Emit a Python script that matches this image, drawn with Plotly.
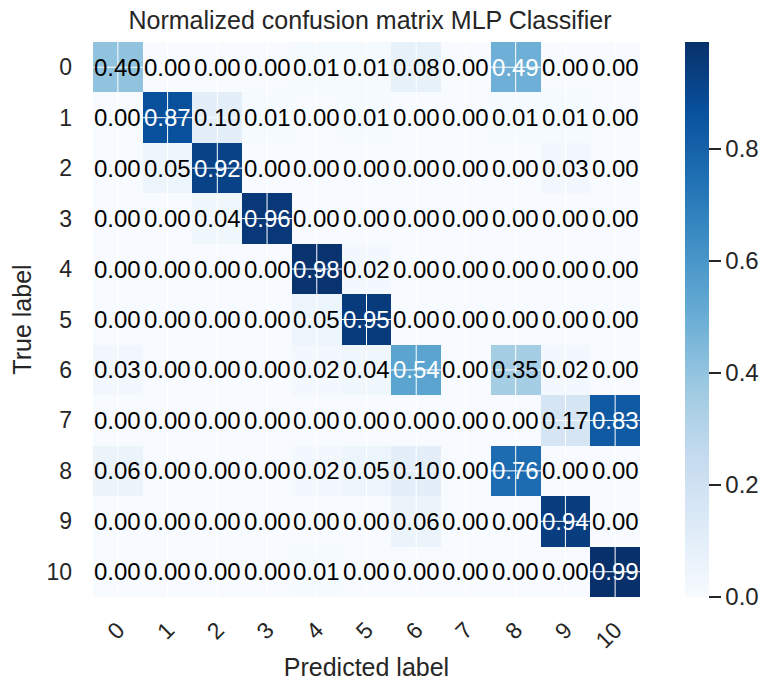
import plotly.graph_objects as go

# ---- data ----
classes = ["0", "1", "2", "3", "4", "5", "6", "7", "8", "9", "10"]
row_0 = [0.40, 0.00, 0.00, 0.00, 0.01, 0.01, 0.08, 0.00, 0.49, 0.00, 0.00]
row_1 = [0.00, 0.87, 0.10, 0.01, 0.00, 0.01, 0.00, 0.00, 0.01, 0.01, 0.00]
row_2 = [0.00, 0.05, 0.92, 0.00, 0.00, 0.00, 0.00, 0.00, 0.00, 0.03, 0.00]
row_3 = [0.00, 0.00, 0.04, 0.96, 0.00, 0.00, 0.00, 0.00, 0.00, 0.00, 0.00]
row_4 = [0.00, 0.00, 0.00, 0.00, 0.98, 0.02, 0.00, 0.00, 0.00, 0.00, 0.00]
row_5 = [0.00, 0.00, 0.00, 0.00, 0.05, 0.95, 0.00, 0.00, 0.00, 0.00, 0.00]
row_6 = [0.03, 0.00, 0.00, 0.00, 0.02, 0.04, 0.54, 0.00, 0.35, 0.02, 0.00]
row_7 = [0.00, 0.00, 0.00, 0.00, 0.00, 0.00, 0.00, 0.00, 0.00, 0.17, 0.83]
row_8 = [0.06, 0.00, 0.00, 0.00, 0.02, 0.05, 0.10, 0.00, 0.76, 0.00, 0.00]
row_9 = [0.00, 0.00, 0.00, 0.00, 0.00, 0.00, 0.06, 0.00, 0.00, 0.94, 0.00]
row_10 = [0.00, 0.00, 0.00, 0.00, 0.01, 0.00, 0.00, 0.00, 0.00, 0.00, 0.99]
matrix = [row_0, row_1, row_2, row_3, row_4, row_5, row_6, row_7, row_8, row_9, row_10]
cbar_ticks = [0.0, 0.2, 0.4, 0.6, 0.8]

# ---- styling ----
FONT = "Liberation Sans, Arial, sans-serif"
DARK = "#262626"
blues = ["#f7fbff", "#deebf7", "#c6dbef", "#9ecae1", "#6baed6",
         "#4292c6", "#2171b5", "#08519c", "#08306b"]
colorscale = [[i / (len(blues) - 1), c] for i, c in enumerate(blues)]

n = len(classes)
idx = list(range(n))
zmax = max(max(r) for r in matrix)
thresh = zmax / 2.0 - 0.01

fig = go.Figure()
fig.add_trace(go.Heatmap(
    z=matrix, x=idx, y=idx,
    colorscale=colorscale, zmin=0, zmax=zmax,
    showscale=True,
    colorbar=dict(
        x=1.083, xanchor="left", xref="paper", xpad=0, ypad=0,
        y=0.5, yanchor="middle", len=1.0, lenmode="fraction",
        thickness=24, outlinewidth=0,
        tickvals=cbar_ticks, ticktext=[f"{v:.1f}" for v in cbar_ticks],
        ticks="outside", ticklen=12, tickwidth=2, tickcolor=DARK,
        tickfont=dict(family=FONT, size=24, color=DARK),
    ),
    hoverinfo="skip",
))

# grid lines through cell centres (seaborn whitegrid drawn over the image)
for i in idx:
    fig.add_shape(type="line", xref="x", yref="y", x0=i, x1=i, y0=-0.5, y1=n - 0.5,
                  line=dict(color="white", width=1), layer="above")
    fig.add_shape(type="line", xref="x", yref="y", y0=i, y1=i, x0=-0.5, x1=n - 0.5,
                  line=dict(color="white", width=1), layer="above")

# cell annotations
for r in idx:
    for c in idx:
        v = matrix[r][c]
        fig.add_annotation(
            x=c, y=r, xref="x", yref="y", text=f"{v:.2f}", showarrow=False,
            font=dict(family=FONT, size=24, color="white" if v > thresh else "black"),
        )

fig.update_layout(
    width=772, height=681,
    margin=dict(l=93, r=125, t=42, b=84),
    paper_bgcolor="white", plot_bgcolor="white",
    title=dict(text="Normalized confusion matrix MLP Classifier",
               x=(93 + 277) / 772, xanchor="center", xref="container",
               y=1 - 20 / 681, yanchor="middle", yref="container",
               font=dict(family=FONT, size=25, color=DARK)),
    xaxis=dict(
        tickvals=idx, ticktext=classes, tickangle=-45,
        range=[-0.5, n - 0.5], showgrid=False, zeroline=False, showline=False,
        ticks="", ticklabelstandoff=14, automargin=False,
        tickfont=dict(family=FONT, size=23, color=DARK),
        title=dict(text="Predicted label", standoff=14,
                   font=dict(family=FONT, size=25, color=DARK)),
    ),
    yaxis=dict(
        tickvals=idx, ticktext=classes, autorange=False,
        range=[n - 0.5, -0.5], showgrid=False, zeroline=False, showline=False,
        ticks="", ticklabelstandoff=20, automargin=False,
        tickfont=dict(family=FONT, size=23, color=DARK),
        title=dict(text="True label", standoff=7,
                   font=dict(family=FONT, size=25, color=DARK)),
    ),
)

fig.write_html("out.html")
